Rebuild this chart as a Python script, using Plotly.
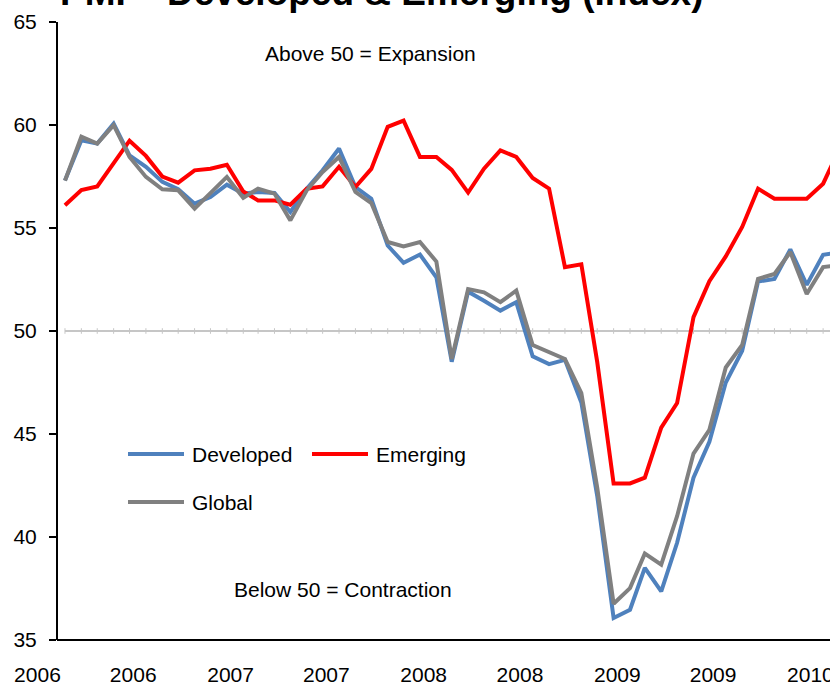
import plotly.graph_objects as go
import pandas as pd

# ---------------- data ----------------
months = pd.date_range("2006-03-01", periods=49, freq="MS")

developed = [57.3, 59.26, 59.1, 60.07, 58.53, 57.97, 57.24, 56.88, 56.18, 56.5,
             57.1, 56.67, 56.75, 56.7, 55.78, 56.91, 57.8, 58.86, 56.99, 56.42,
             54.15, 53.31, 53.71, 52.61, 48.51, 51.91, 51.47, 50.99, 51.4, 48.77,
             48.39, 48.6, 46.53, 42.0, 36.07, 36.47, 38.5, 37.36, 39.72, 42.88,
             44.62, 47.5, 49.04, 52.4, 52.53, 53.96, 52.24, 53.7, 53.8]

emerging = [56.1, 56.84, 57.02, 58.13, 59.24, 58.5, 57.5, 57.2, 57.8, 57.88,
            58.07, 56.77, 56.34, 56.34, 56.13, 56.91, 57.02, 57.97, 56.99, 57.87,
            59.91, 60.21, 58.45, 58.45, 57.82, 56.72, 57.88, 58.77, 58.45, 57.43,
            56.91, 53.1, 53.24, 48.5, 42.6, 42.6, 42.88, 45.31, 46.5, 50.67,
            52.42, 53.62, 55.05, 56.91, 56.42, 56.42, 56.42, 57.15, 58.7]

global_pmi = [57.3, 59.43, 59.1, 59.99, 58.45, 57.48, 56.88, 56.83, 55.94, 56.67,
              57.48, 56.46, 56.91, 56.67, 55.37, 56.83, 57.72, 58.45, 56.75, 56.21,
              54.32, 54.1, 54.32, 53.37, 48.64, 52.04, 51.88, 51.4, 51.96, 49.32,
              48.99, 48.64, 46.98, 42.4, 36.76, 37.52, 39.2, 38.66, 41.01, 44.05,
              45.2, 48.23, 49.32, 52.53, 52.77, 53.83, 51.8, 53.1, 53.2]

series_names = ["Developed", "Emerging", "Global"]
THRESHOLD = 50
y_ticks = [35, 40, 45, 50, 55, 60, 65]

title_text = "PMI \u2013 Developed & Emerging (Index)"
note_above = "Above 50 = Expansion"
note_below = "Below 50 = Contraction"

# ---------------- styling ----------------
FONT = "Arial, 'Liberation Sans', sans-serif"
BLUE, RED, GREY = "#4F81BD", "#FF0000", "#808080"
W, H = 830, 685
ML, MR, MT, MB = 20, 0, 22, 45
PW, PH = W - ML - MR, H - MT - MB


def px(xp):
    return (xp - ML) / PW


def py(yp):
    return (H - MB - yp) / PH


AXIS_POS = px(57)

fig = go.Figure()

fig.add_trace(go.Scatter(
    x=months, y=[THRESHOLD] * len(months), mode="lines+markers",
    line=dict(color="#C6C6C6", width=1.8),
    marker=dict(symbol="line-ns", size=4, line=dict(color="#C6C6C6", width=1)),
    hoverinfo="skip", showlegend=False))

for name, vals, col in zip(series_names, [developed, emerging, global_pmi], [BLUE, RED, GREY]):
    fig.add_trace(go.Scatter(x=months, y=vals, name=name, mode="lines",
                             line=dict(color=col, width=4), showlegend=False))

# manual legend (long line samples as in the original)
legend_items = [("Developed", BLUE, 128, 454), ("Emerging", RED, 312, 454), ("Global", GREY, 128, 502)]
shapes = []
annotations = []
for name, col, x0, y0 in legend_items:
    shapes.append(dict(type="line", xref="paper", yref="paper",
                       x0=px(x0), x1=px(x0 + 56), y0=py(y0), y1=py(y0),
                       line=dict(color=col, width=4)))
    annotations.append(dict(text=name, xref="paper", yref="paper", x=px(x0 + 62), y=py(y0),
                            xanchor="left", yanchor="middle", showarrow=False,
                            font=dict(size=21, color="black", family=FONT)))

# bottom axis line starting at the value axis
shapes.append(dict(type="line", xref="paper", yref="paper", x0=AXIS_POS, x1=1, y0=0, y1=0,
                   line=dict(color="black", width=2)))

annotations += [
    dict(text=title_text, xref="paper", yref="paper", x=px(381.5), y=py(-7),
         xanchor="center", yanchor="middle", showarrow=False,
         font=dict(size=37, color="black", family=FONT, weight="bold")),
    dict(text=note_above, xref="paper", yref="paper", x=px(263), y=py(53),
         xanchor="left", yanchor="middle", showarrow=False,
         font=dict(size=21, color="black", family=FONT)),
    dict(text=note_below, xref="paper", yref="paper", x=px(232), y=py(589),
         xanchor="left", yanchor="middle", showarrow=False,
         font=dict(size=21, color="black", family=FONT)),
]

fig.update_layout(
    width=W, height=H,
    margin=dict(l=ML, r=MR, t=MT, b=MB, pad=0, autoexpand=False),
    paper_bgcolor="white", plot_bgcolor="white",
    font=dict(family=FONT, size=21, color="black"),
    showlegend=False,
    shapes=shapes, annotations=annotations,
    xaxis=dict(type="date", range=["2005-12-06", "2010-02-14"],
               tick0="2006-01-08", dtick="M6", tickformat="%Y",
               ticks="", showline=False, showgrid=False, zeroline=False,
               automargin=False, ticklabeloverflow="allow",
               tickfont=dict(size=21, color="black"), ticklabelstandoff=20),
    yaxis=dict(range=[35, 65], tickvals=y_ticks, anchor="free", position=AXIS_POS,
               ticks="outside", ticklen=7, tickwidth=1.5, tickcolor="black",
               showline=True, linecolor="black", linewidth=2,
               showgrid=False, zeroline=False, automargin=False,
               tickfont=dict(size=21, color="black"), ticklabelstandoff=8),
)

fig.write_html("out.html", config={"displayModeBar": False},
               post_script="document.body.style.margin='0px';document.body.style.overflow='hidden';")
